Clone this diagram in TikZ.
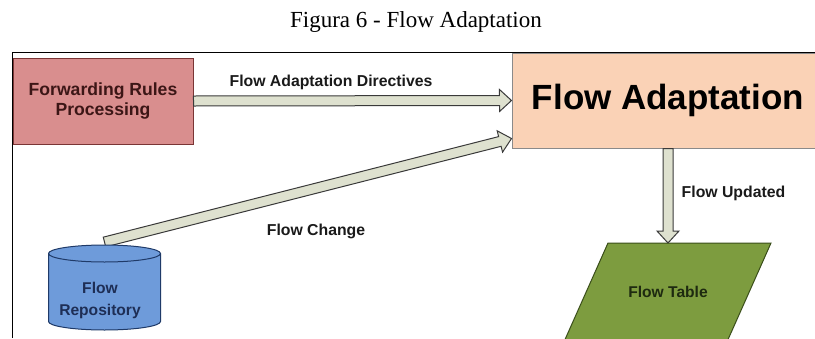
\documentclass[tikz,border=0pt]{standalone}
\usepackage{fontspec}
\setmainfont{Liberation Sans}
\newfontfamily\capfont{Liberation Serif}
\usetikzlibrary{calc}
\definecolor{frpfill}{HTML}{D98E8E}
\definecolor{frpdraw}{HTML}{7A3535}
\definecolor{frptext}{HTML}{3C1616}
\definecolor{fafill}{HTML}{FAD2B6}
\definecolor{fadraw}{HTML}{8A8A8A}
\definecolor{arrfill}{HTML}{DEE1CF}
\definecolor{arrdraw}{HTML}{3A3A3A}
\definecolor{repofill}{HTML}{6E9BDA}
\definecolor{repodraw}{HTML}{1F3A68}
\definecolor{repotext}{HTML}{1E2E55}
\definecolor{tabfill}{HTML}{7D9C3F}
\definecolor{tabdraw}{HTML}{3A4E1A}
\definecolor{tabtext}{HTML}{1E2A10}
\definecolor{labtext}{HTML}{1A1A1A}
\newcommand\fatarrow[2]{%
  \coordinate (hbtmp) at ($(#2)!12pt!(#1)$);
  \filldraw[fatarrowstyle] ($(#1)!5pt!-90:(#2)$) -- ($(hbtmp)!5pt!-90:(#2)$) -- ($(hbtmp)!11pt!-90:(#2)$) -- (#2) -- ($(hbtmp)!11pt!90:(#2)$) -- ($(hbtmp)!5pt!90:(#2)$) -- ($(#1)!5pt!90:(#2)$) -- cycle;}
\tikzset{
  fatarrowstyle/.style={fill=arrfill, draw=arrdraw, line width=1pt, line join=miter},
  frpbox/.style={rectangle, fill=frpfill, draw=frpdraw, line width=1pt, minimum width=180, minimum height=86, align=center, text=frptext, font=\bfseries\fontsize{17.6}{20}\selectfont},
  fabox/.style={rectangle, fill=fafill, draw=fadraw, line width=1pt, minimum width=312, minimum height=95, text=black, font=\bfseries\fontsize{35}{40}\selectfont},
  lab/.style={anchor=base, text=labtext, font=\bfseries\fontsize{15.8}{19}\selectfont},
  cylstyle/.style={fill=repofill, draw=repodraw, line width=1pt},
  tabstyle/.style={fill=tabfill, draw=tabdraw, line width=1pt},
}
\begin{document}
\begin{tikzpicture}[x=1pt,y=-1pt]
\useasboundingbox (0,0) rectangle (815,338);
\clip (0,0) rectangle (815,338);
\fill[white] (0,0) rectangle (815,338);
% caption
\node[anchor=base, font=\capfont\fontsize{23}{27}\selectfont] (cap) at (416,27) {Figura 6 - Flow Adaptation};
% boxes
\node[frpbox] (frp) at (103,101) {Forwarding Rules\\Processing};
\node[fabox] (fa) at (668,100.5) {Flow Adaptation};
% flow table
\filldraw[tabstyle] (608,243) -- (771,243) -- (727.8,340) -- (564.8,340) -- cycle;
\coordinate (tabletop) at (668,243);
\node[anchor=base, text=tabtext, font=\bfseries\fontsize{15.6}{19}\selectfont] (table) at (668,297) {Flow Table};
% arrows
\coordinate (repotop) at (104.5,242);
\coordinate (fcend) at ($(fa.south west)+(0,-10)$);
\fatarrow{repotop}{fcend}
\fatarrow{frp.east}{fa.west}
\coordinate (fubase) at (fa.south -| tabletop);
\fatarrow{fubase}{tabletop}
% cylinder
\filldraw[cylstyle] (48.5,253.5) -- (48.5,321.5) arc[start angle=180,end angle=0,x radius=56,y radius=8.5] -- (160.5,253.5) arc[start angle=0,end angle=-180,x radius=56,y radius=8.5] -- cycle;
\draw[cylstyle, fill=none] (48.5,253.5) arc[start angle=180,end angle=0,x radius=56,y radius=8.5];
\node[align=center, text=repotext, font=\bfseries\fontsize{15.6}{22}\selectfont] (repo) at (100,300) {Flow\\Repository};
% labels
\node[lab] (ladir) at (331,86) {Flow Adaptation Directives};
\node[lab] (lchg) at (316,235) {Flow Change};
\node[lab] (lupd) at (733.5,197) {Flow Updated};
% frame
\draw[line width=1.3pt] (12.5,338) -- (12.5,52.5) -- (815,52.5);
\end{tikzpicture}
\end{document}
